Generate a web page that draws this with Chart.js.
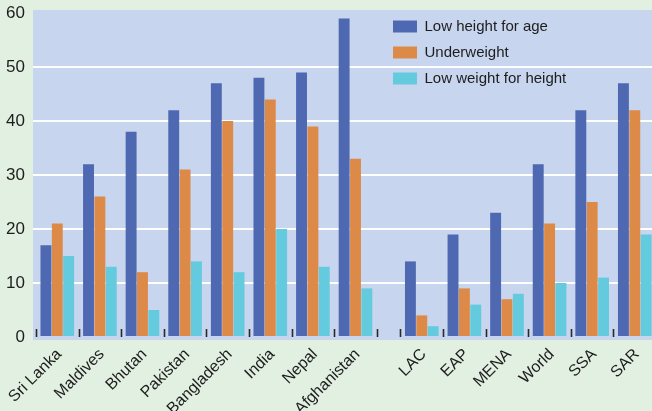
<!DOCTYPE html>
<html>
<head>
<meta charset="utf-8">
<script src="https://cdn.jsdelivr.net/npm/chart.js@4"></script>
<style>
    html, body { margin: 0; padding: 0; background: #e2f0e1; overflow: hidden; }
    canvas { display: block; }
</style>
</head>
<body>
<canvas id="chart" width="652" height="411"></canvas>
<script>
// Countries, then regional aggregates (drawn as a second group)
const countryLabels = ['Sri Lanka', 'Maldives', 'Bhutan', 'Pakistan', 'Bangladesh', 'India', 'Nepal', 'Afghanistan'];
const regionLabels = ['LAC', 'EAP', 'MENA', 'World', 'SSA', 'SAR'];

const lowHeightForAge    = [17, 32, 38, 42, 47, 48, 49, 59,  14, 19, 23, 32, 42, 47];
const underweight        = [21, 26, 12, 31, 40, 44, 39, 33,   4,  9,  7, 21, 25, 42];
const lowWeightForHeight = [15, 13,  5, 14, 12, 20, 13,  9,   2,  6,  8, 10, 11, 19];

const yTicks = [0, 10, 20, 30, 40, 50, 60];

// layout helpers (gap between the two groups, in category widths)
const GROUP_GAP = 0.556;
const labels = countryLabels.concat(regionLabels);
const xPos = labels.map((_, i) => i + 0.5 + (i >= countryLabels.length ? GROUP_GAP : 0));
const boundaries = [];
for (let i = 0; i <= countryLabels.length; i++) boundaries.push(i);
for (let i = 0; i <= regionLabels.length; i++) boundaries.push(countryLabels.length + GROUP_GAP + i);

const toPoints = vals => vals.map((v, i) => ({ x: xPos[i], y: v }));

const textColor = '#1d1d1d';
const fontFamily = "'Liberation Sans', Arial, sans-serif";

// Light blue panel behind the bars
const plotBackground = {
    id: 'plotBackground',
    beforeDraw(chart) {
        const { ctx, chartArea: a } = chart;
        ctx.save();
        ctx.fillStyle = '#c7d5ee';
        ctx.fillRect(a.left, a.top, a.right - a.left, a.bottom - a.top);
        ctx.restore();
    }
};

// Small dark marks between the bar groups, sitting on the zero line
const groupTicks = {
    id: 'groupTicks',
    afterDatasetsDraw(chart) {
        const { ctx } = chart;
        const x = chart.scales.x;
        const y0 = chart.scales.y.getPixelForValue(0);
        ctx.save();
        ctx.strokeStyle = '#2a2a2a';
        ctx.lineWidth = 1.6;
        boundaries.forEach(b => {
            const px = Math.round(x.getPixelForValue(b)) + 0.5;
            ctx.beginPath();
            ctx.moveTo(px, y0 - 8);
            ctx.lineTo(px, y0);
            ctx.stroke();
        });
        ctx.restore();
    }
};

// Move the in-area legend towards the upper middle of the panel
const legendPlacement = {
    id: 'legendPlacement',
    afterLayout(chart) {
        const lg = chart.legend;
        const a = chart.chartArea;
        const pad = lg.options.labels.padding;
        lg.left = a.left + 360 - pad;
        lg.top = a.top + 9 - pad;
    }
};

const ctx = document.getElementById('chart');

new Chart(ctx, {
    type: 'bar',
    data: {
        datasets: [
            { label: 'Low height for age', data: toPoints(lowHeightForAge), backgroundColor: '#4f68b2' },
            { label: 'Underweight', data: toPoints(underweight), backgroundColor: '#dd8a48' },
            { label: 'Low weight for height', data: toPoints(lowWeightForHeight), backgroundColor: '#64cade' }
        ]
    },
    options: {
        responsive: false,
        animation: false,
        categoryPercentage: 0.8,
        barPercentage: 0.96,
        layout: { padding: { top: 10, left: 0, right: 0, bottom: 0 } },
        plugins: {
            legend: {
                position: 'chartArea',
                align: 'start',
                labels: {
                    boxWidth: 24,
                    boxHeight: 12,
                    padding: 11,
                    color: textColor,
                    font: { family: fontFamily, size: 15 }
                }
            },
            tooltip: { enabled: false }
        },
        scales: {
            x: {
                type: 'linear',
                offset: false,
                min: -0.07,
                max: 14.46,
                afterBuildTicks: scale => {
                    scale.ticks = xPos.map(v => ({ value: v }));
                },
                afterFit: scale => { scale.height = 71; },
                grid: { display: false, offset: false },
                border: { display: false },
                ticks: {
                    autoSkip: false,
                    minRotation: 45,
                    maxRotation: 45,
                    padding: -3,
                    labelOffset: 2,
                    color: textColor,
                    font: { family: fontFamily, size: 16 },
                    callback: (value, index) => labels[index]
                }
            },
            y: {
                min: -0.556,
                max: 60.556,
                afterBuildTicks: scale => {
                    scale.ticks = yTicks.map(v => ({ value: v }));
                },
                afterFit: scale => {
                    scale.width = 33;
                    scale.paddingTop = 0;
                    scale.paddingBottom = 0;
                },
                grid: {
                    color: c => (c.tick && c.tick.value > 0 && c.tick.value < 60) ? '#ffffff' : 'rgba(0,0,0,0)',
                    lineWidth: 2,
                    drawTicks: false
                },
                border: { display: false },
                ticks: {
                    padding: 8,
                    color: textColor,
                    font: { family: fontFamily, size: 17 }
                }
            }
        }
    },
    plugins: [plotBackground, groupTicks, legendPlacement]
});
</script>
</body>
</html>
